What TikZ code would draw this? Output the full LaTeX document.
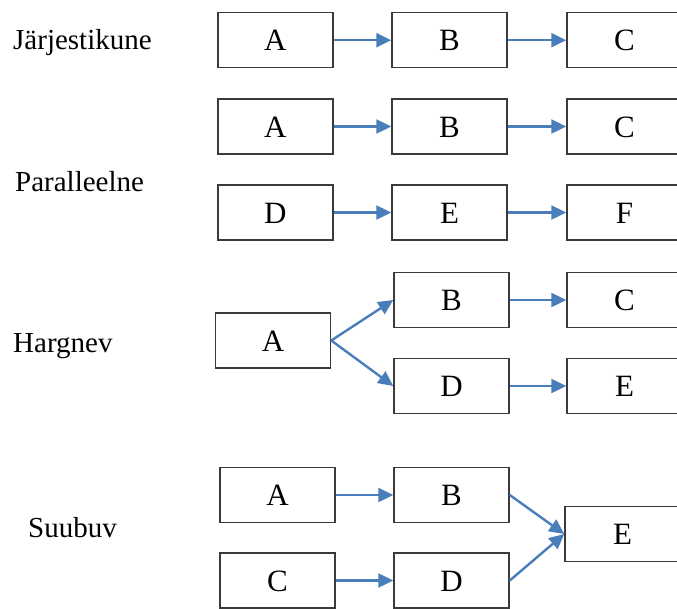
\documentclass[tikz,border=0pt]{standalone}
\usepackage{fontspec}
\setmainfont{Liberation Serif}
\usetikzlibrary{arrows.meta}
\definecolor{arrblue}{HTML}{4A7EBB}
\definecolor{boxgray}{HTML}{3A3A3A}
\begin{document}
\begin{tikzpicture}[x=1pt,y=-1pt,
  box/.style={draw=boxgray, line width=1.5pt, minimum width=115pt, minimum height=55pt,
    inner sep=0pt, font=\fontsize{31}{31}\selectfont, text height=21pt, text depth=0pt},
  lbl/.style={anchor=base west, inner sep=0pt, font=\fontsize{29}{29}\selectfont},
  arr/.style={draw=arrblue, line width=2.4pt, -{Triangle[length=15pt,width=14pt]}}]
\clip (0,0) rectangle (677,608);
% Järjestikune
\node[box] (a1) at (275.3,40.2) {A};
\node[box] (b1) at (449.5,40.2) {B};
\node[box] (c1) at (624.5,40.2) {C};
% Paralleelne
\node[box] (a2) at (275.3,126.5) {A};
\node[box] (b2) at (449.5,126.5) {B};
\node[box] (c2) at (624.5,126.5) {C};
\node[box] (d3) at (275.3,212.5) {D};
\node[box] (e3) at (449.5,212.5) {E};
\node[box] (f3) at (624.5,212.5) {F};
% Hargnev
\node[box] (ha) at (273,340.5) {A};
\node[box] (hb) at (451.5,300) {B};
\node[box] (hc) at (624.5,300) {C};
\node[box] (hd) at (451.5,386) {D};
\node[box] (he) at (624.5,386) {E};
% Suubuv
\node[box] (sa) at (277.5,495) {A};
\node[box] (sb) at (451.5,495) {B};
\node[box] (sc) at (277.5,580.5) {C};
\node[box] (sd) at (451.5,580.5) {D};
\node[box] (se) at (622.5,534) {E};
% labels
\node[lbl] (l1) at (13,49) {Järjestikune};
\node[lbl] (l2) at (15,191) {Paralleelne};
\node[lbl] (l3) at (13,352) {Hargnev};
\node[lbl] (l4) at (28,537) {Suubuv};
% arrows
\draw[arr] (a1) -- (b1);
\draw[arr] (b1) -- (c1);
\draw[arr] (a2) -- (b2);
\draw[arr] (b2) -- (c2);
\draw[arr] (d3) -- (e3);
\draw[arr] (e3) -- (f3);
\draw[arr] (ha.east) -- (hb.west);
\draw[arr] (ha.east) -- (hd.west);
\draw[arr] (hb) -- (hc);
\draw[arr] (hd) -- (he);
\draw[arr] (sa) -- (sb);
\draw[arr] (sc) -- (sd);
\draw[arr] (sb.east) -- (se.west);
\draw[arr] (sd.east) -- (se.west);
\end{tikzpicture}
\end{document}
